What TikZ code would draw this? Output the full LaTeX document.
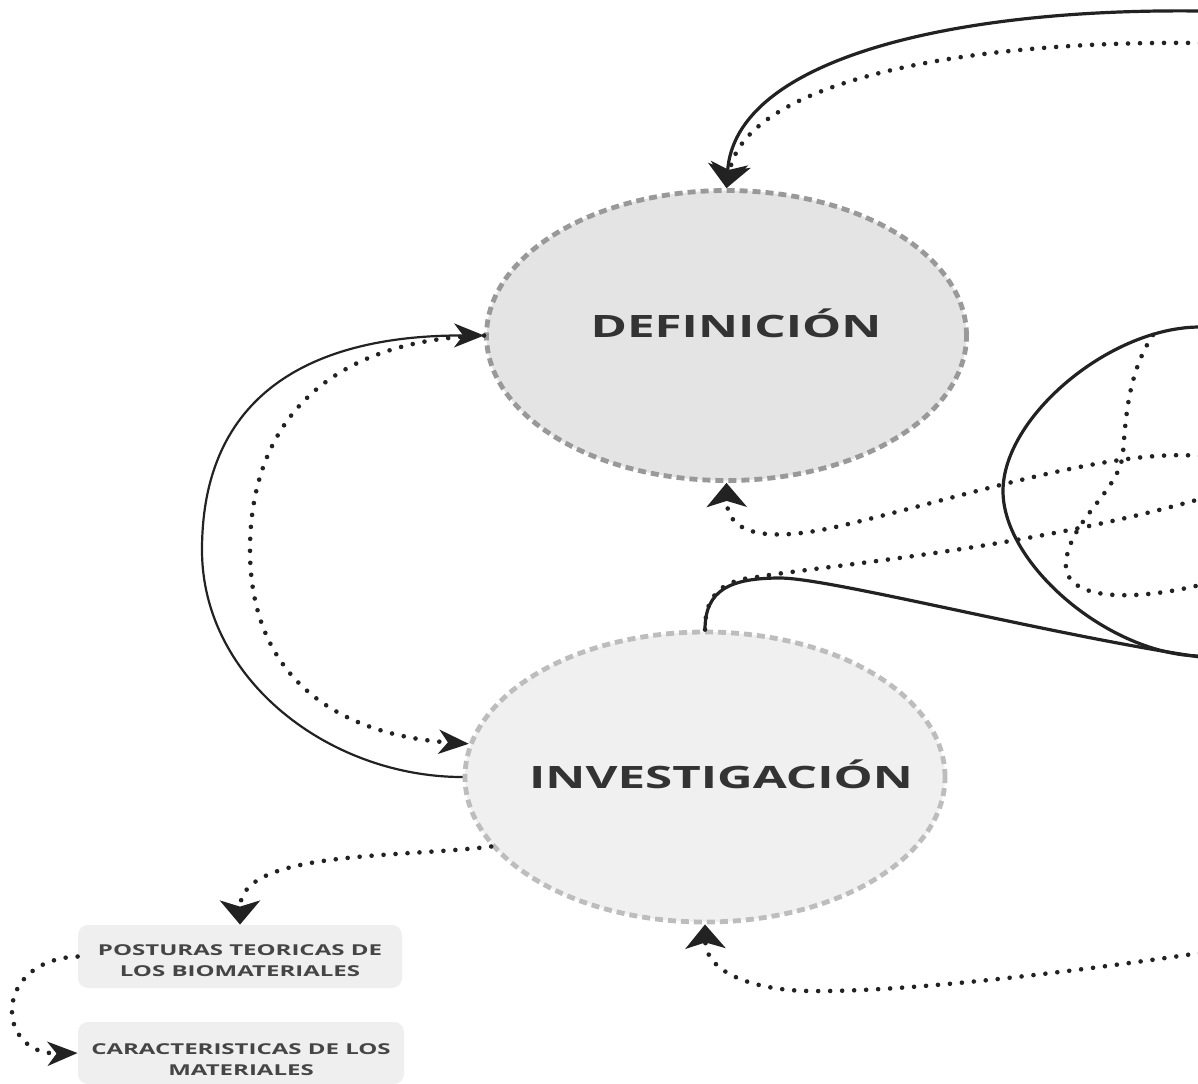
\documentclass[tikz,border=0pt]{standalone}
\usepackage{fontspec}
\newfontfamily\wfont{Open Sans}[FakeStretch=1.6]
\usetikzlibrary{arrows.meta,shapes.geometric}
\definecolor{ink}{HTML}{222222}
\definecolor{txtdark}{HTML}{333333}
\definecolor{txtsoft}{HTML}{454545}
\definecolor{defill}{HTML}{E4E4E4}
\definecolor{deline}{HTML}{999999}
\definecolor{invfill}{HTML}{F0F0F0}
\definecolor{invline}{HTML}{BDBDBD}
\definecolor{tagfill}{HTML}{EFEFEF}
\begin{document}
\begin{tikzpicture}[x=0.5pt,y=-0.5pt,
  bubble/.style={ellipse, inner sep=0pt, line width=2.4pt,
    dash pattern=on 4pt off 2.5pt, minimum width=240pt, minimum height=145pt},
  tag/.style={rectangle, rounded corners=5pt, fill=tagfill, inner sep=0pt},
  bigtxt/.style={font=\wfont\bfseries\fontsize{15.4}{18}\selectfont, text=txtdark, inner sep=0pt},
  smalltxt/.style={font=\wfont\bfseries\fontsize{7.5}{10.5}\selectfont, text=txtsoft,
    align=center, inner sep=0pt},
  solidthick/.style={draw=ink, line width=1.6pt},
  solidthin/.style={draw=ink, line width=1.1pt},
  dotline/.style={draw=ink, line width=2.3pt, line cap=round, dash pattern=on 0pt off 6pt},
  tipV/.style={-{Stealth[length=12pt,width=20pt,inset=3pt]}},
  tipH/.style={-{Stealth[length=15pt,width=12pt,inset=4.5pt]}}]

\fill[white] (0,0) rectangle (1198,1083);
\useasboundingbox (0,0) rectangle (1198,1083);

% main concepts
\node[bubble, fill=defill, draw=deline] (def) at (726.5,335.5) {};
\node[bubble, fill=invfill, draw=invline] (inv) at (705,777) {};
\node[bigtxt, anchor=base] (deft) at (736,337) {DEFINICIÓN};
\node[bigtxt, anchor=base] (invt) at (721,788) {INVESTIGACIÓN};

% sub topics
\node[tag, minimum width=162pt, minimum height=31.5pt] (post) at (240,956.5) {};
\node[tag, minimum width=163pt, minimum height=31pt] (cara) at (241,1053) {};
\node[smalltxt] (postt) at (240,961) {POSTURAS TEORICAS DE\\LOS BIOMATERIALES};
\node[smalltxt] (carat) at (241,1060) {CARACTERISTICAS DE LOS\\MATERIALES};

% loose ends running off the right border
\coordinate (eA) at (1200,11);
\coordinate (eB) at (1200,43);
\coordinate (eC) at (1200,456);
\coordinate (eD) at (1200,499);
\coordinate (eE) at (1200,657);
\coordinate (eF) at (1200,327);
\coordinate (eG) at (1200,656);
\coordinate (eH) at (1200,585);
\coordinate (eI) at (1200,953);
\coordinate (lp) at (1153,335);

% arrows into DEFINICIÓN from above
\draw[solidthick, tipV] (eA) .. controls (950,8) and (735,60) .. (def.north);
\draw[dotline, tipV] (eB) .. controls (950,40) and (745,85) .. (def.north);

% loop between the two concepts
\draw[solidthin, tipH] (inv.west) .. controls (330,777) and (202,680) .. (202,550)
  .. controls (202,395) and (310,335) .. (def.west);
\draw[dotline, tipH] (def.west) .. controls (330,340) and (250,420) .. (250,550)
  .. controls (250,680) and (340,735) .. (inv.172);

% dotted arrow into DEFINICIÓN from below
\draw[dotline, tipV] (eC) .. controls (1110,448) and (960,498) .. (840,526)
  .. controls (780,540) and (727,540) .. (def.south);

% links leaving INVESTIGACIÓN upwards
\draw[solidthick] (inv.north) .. controls (705,590) and (730,578) .. (780,578)
  .. controls (830,578) and (1050,635) .. (eE);
\draw[dotline] (inv.north) .. controls (705,592) and (725,580) .. (757,577)
  .. controls (820,566) and (1020,550) .. (eD);

% large arc and the dotted loop inside it
\draw[solidthick] (eF) .. controls (1110,327) and (1003,417) .. (1003,491)
  .. controls (1003,565) and (1110,655) .. (eG);
\draw[dotline] (lp) .. controls (1130,370) and (1126,410) .. (1123,453)
  .. controls (1120,490) and (1070,520) .. (1066,562)
  .. controls (1062,600) and (1130,602) .. (eH);

% dotted arrow into INVESTIGACIÓN from below
\draw[dotline, tipV] (eI) .. controls (1050,975) and (900,992) .. (810,991)
  .. controls (760,990.5) and (706,975) .. (inv.south);

% sub topic chain
\draw[dotline, tipV] (inv.198) .. controls (400,858) and (240,850) .. (post.north);
\draw[dotline, tipH] (post.west) .. controls (-8,960) and (-5,1055) .. (cara.west);
\end{tikzpicture}
\end{document}
